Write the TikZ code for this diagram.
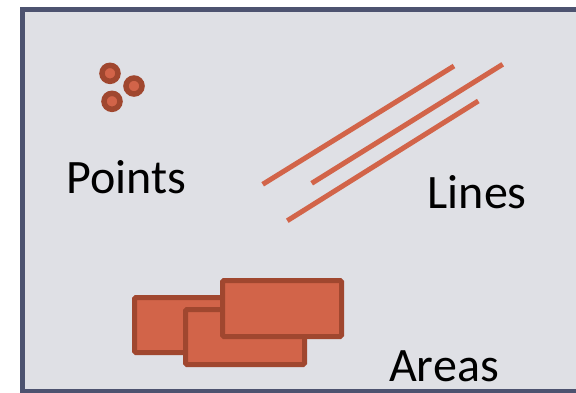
\documentclass[tikz,border=0pt]{standalone}
\usepackage{fontspec}
\setmainfont{Carlito}
\definecolor{fond}{HTML}{DFE0E5}
\definecolor{cadre}{HTML}{4D5370}
\definecolor{brique}{HTML}{D26449}
\definecolor{bord}{HTML}{A0472F}

\begin{document}
\begin{tikzpicture}[x=1pt, y=-1pt,
  etiquette/.style={anchor=base west, inner sep=0pt, font=\fontsize{48}{57}\selectfont},
  point/.style={draw=bord, fill=brique, line width=5.5pt},
  trait/.style={draw=brique, line width=5pt},
  zone/.style={draw=bord, fill=brique, line width=5pt, rounded corners=1.5pt}]
  % cadre de la page
  \useasboundingbox (0,0) rectangle (576,392);
  \clip (0,0) rectangle (576,392);
  \draw[draw=cadre, fill=fond, line width=5.3pt] (22.5,9.3) rectangle (620,392);
  % points
  \draw[point] (110,73.3) circle (8);
  \draw[point] (134,86) circle (8);
  \draw[point] (112,101.3) circle (8);
  \node[etiquette] (points) at (66,193.3) {Points};
  % lignes
  \draw[trait] (262.7,184.3) -- (454,66);
  \draw[trait] (311.7,183.3) -- (502.7,64.3);
  \draw[trait] (287.3,220.7) -- (478.3,101);
  \node[etiquette] (lines) at (427.5,208.3) {Lines};
  % surfaces (de l'arriere vers l'avant)
  \draw[zone] (134.5,297.5) rectangle (253.5,352.5);
  \draw[zone] (185.5,309.5) rectangle (304.5,364.5);
  \draw[zone] (222.5,280.5) rectangle (341.5,336.5);
  \node[etiquette] (areas) at (389,381.7) {Areas};
\end{tikzpicture}
\end{document}
